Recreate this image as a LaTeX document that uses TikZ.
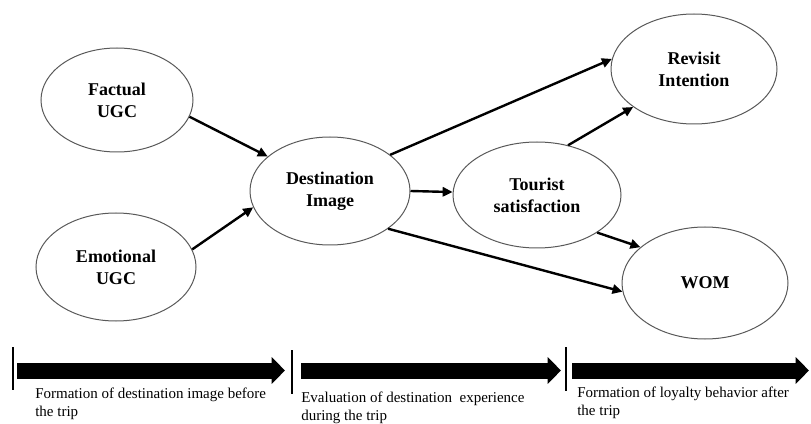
\documentclass[tikz,border=0pt]{standalone}
\usepackage{fontspec}
\setmainfont{Liberation Serif}
\usetikzlibrary{arrows.meta,shapes.geometric}

\tikzset{
  construct/.style={ellipse, draw=black!65, line width=0.75pt, inner sep=0pt,
    align=center, font=\fontsize{13.5pt}{16.5pt}\selectfont\bfseries},
  link/.style={line width=1.8pt, -{Triangle[length=7.5pt,width=7pt]}},
  phasearrow/.style={line width=12pt, -{Triangle[length=10pt,width=19.5pt]}},
  divider/.style={line width=1.5pt},
  phaselabel/.style={anchor=north west, inner sep=0pt, align=left,
    font=\fontsize{11.25pt}{13pt}\selectfont}
}

\begin{document}
\begin{tikzpicture}[x=0.75pt, y=-0.75pt]
\useasboundingbox (0,0) rectangle (811,424);

% constructs of the model
\node[construct, minimum width=114pt, minimum height=78pt] (fac) at (117,100) {Factual\\UGC};
\node[construct, minimum width=120pt, minimum height=81pt] (emo) at (116,267) {Emotional\\UGC};
\node[construct, minimum width=120pt, minimum height=81pt] (dest) at (330,191) {Destination\\Image};
\node[construct, minimum width=126pt, minimum height=79.5pt] (tour) at (537,195) {Tourist\\satisfaction};
\node[construct, minimum width=124.5pt, minimum height=82.5pt] (rev) at (694,69) {Revisit\\Intention};
\node[construct, minimum width=124.5pt, minimum height=84pt] (wom) at (705,283) {WOM};

% hypothesised paths
\draw[link] (fac.-13) -- (dest.151);
\draw[link] (emo.13) -- (dest.192);
\draw[link] (dest.31) -- (rev.173);
\draw[link] (dest.0) -- (tour.178);
\draw[link] (dest.-33) -- (wom.186);
\draw[link] (tour.58) -- (rev.212);
\draw[link] (tour.-32) -- (wom.151);

% phase dividers
\coordinate (d1t) at (13,347);
\coordinate (d1b) at (13,390);
\coordinate (d2t) at (292,350);
\coordinate (d2b) at (292,394);
\coordinate (d3t) at (566,347);
\coordinate (d3b) at (566,391);
\draw[divider] (d1t) -- (d1b);
\draw[divider] (d2t) -- (d2b);
\draw[divider] (d3t) -- (d3b);

% phase arrows
\coordinate (p1s) at (17,370.5);
\coordinate (p1e) at (285,370.5);
\coordinate (p2s) at (301,370.5);
\coordinate (p2e) at (561,370.5);
\coordinate (p3s) at (572,370.5);
\coordinate (p3e) at (809,370.5);
\draw[phasearrow] (p1s) -- (p1e);
\draw[phasearrow] (p2s) -- (p2e);
\draw[phasearrow] (p3s) -- (p3e);

% phase labels
\node[phaselabel] (l1) at (35,388) {Formation of destination image before\\the trip};
\node[phaselabel] (l2) at (301,392) {Evaluation of destination\ \ experience\\during the trip};
\node[phaselabel] (l3) at (577,387) {Formation of loyalty behavior after\\the trip};
\end{tikzpicture}
\end{document}
